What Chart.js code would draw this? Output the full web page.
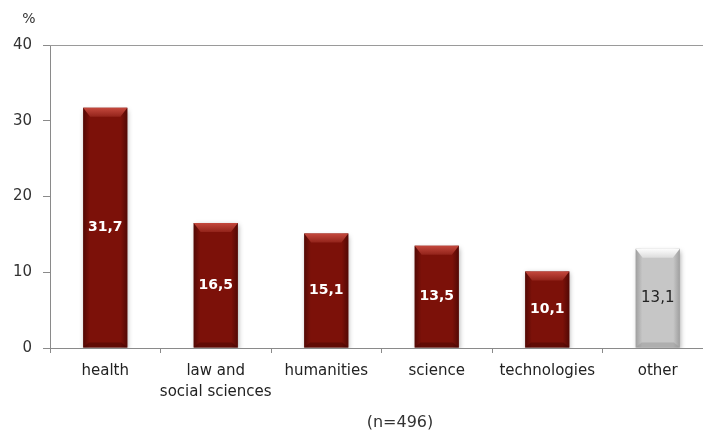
<!DOCTYPE html>
<html>
<head>
<meta charset="utf-8">
<script src="https://cdn.jsdelivr.net/npm/chart.js@4/dist/chart.umd.min.js"></script>
<style>
html,body{margin:0;padding:0;background:#fff;overflow:hidden;width:703px;height:433px;}
#wrap{position:relative;width:716px;height:433px;}
canvas{display:block;}
</style>
</head>
<body>
<div id="wrap"><canvas id="c" width="716" height="433"></canvas></div>
<script>
const categories = ['health', ['law and', 'social sciences'], 'humanities', 'science', 'technologies', 'other'];
const values = [31.7, 16.5, 15.1, 13.5, 10.1, 13.1];
const valueLabels = ['31,7', '16,5', '15,1', '13,5', '10,1', '13,1'];
const yTicks = [0, 10, 20, 30, 40];
const unitLabel = '%';
const noteLabel = '(n=496)';

const FONT = "'DejaVu Sans', 'Open Sans', sans-serif";
const RED = '#7c1109';
const GRAY = '#c6c6c6';
const isOther = i => i === values.length - 1;

const bevelPlugin = {
  id: 'bevel',
  beforeDatasetsDraw(chart) {
    const ctx = chart.ctx;
    ctx.save();
    ctx.shadowColor = 'rgba(0,0,0,0.35)';
    ctx.shadowBlur = 5;
    ctx.shadowOffsetX = 1;
    ctx.shadowOffsetY = 2;
  },
  afterDatasetsDraw(chart) {
    const ctx = chart.ctx;
    ctx.restore();
    const meta = chart.getDatasetMeta(0);
    meta.data.forEach((el, i) => {
      const p = el.getProps(['x', 'y', 'base', 'width'], true);
      const l = p.x - p.width / 2, r = p.x + p.width / 2, t = p.y, b = p.base;
      const other = isOther(i);
      ctx.save();
      // side shading
      let g = ctx.createLinearGradient(l, 0, r, 0);
      const sc = other ? '120,120,120' : '40,0,0';
      g.addColorStop(0, 'rgba(' + sc + ',0.5)');
      g.addColorStop(0.15, 'rgba(' + sc + ',0)');
      g.addColorStop(0.85, 'rgba(' + sc + ',0)');
      g.addColorStop(1, 'rgba(' + sc + ',0.5)');
      ctx.fillStyle = g;
      ctx.fillRect(l, t, r - l, b - t);
      // top bevel
      const bv = 9;
      let tg = ctx.createLinearGradient(0, t, 0, t + bv);
      if (other) {
        tg.addColorStop(0, '#fdfdfd');
        tg.addColorStop(1, '#dcdcdc');
      } else {
        tg.addColorStop(0, '#c4483d');
        tg.addColorStop(1, '#92231a');
      }
      ctx.beginPath();
      ctx.moveTo(l, t);
      ctx.lineTo(r, t);
      ctx.lineTo(r - 7, t + bv);
      ctx.lineTo(l + 7, t + bv);
      ctx.closePath();
      ctx.fillStyle = tg;
      ctx.fill();
      // bottom bevel
      ctx.beginPath();
      ctx.moveTo(l, b);
      ctx.lineTo(r, b);
      ctx.lineTo(r - 6, b - 5);
      ctx.lineTo(l + 6, b - 5);
      ctx.closePath();
      ctx.fillStyle = other ? 'rgba(150,150,150,0.5)' : 'rgba(50,0,0,0.35)';
      ctx.fill();
      // value label
      ctx.font = other ? ('15px ' + FONT) : ('bold 14px ' + FONT);
      ctx.fillStyle = other ? '#222' : '#ffffff';
      ctx.textAlign = 'center';
      ctx.textBaseline = 'middle';
      ctx.fillText(valueLabels[i], p.x, (t + b) / 2);
      ctx.restore();
    });
  },
  afterDraw(chart) {
    const ctx = chart.ctx;
    ctx.save();
    ctx.fillStyle = '#333';
    ctx.textAlign = 'center';
    ctx.textBaseline = 'middle';
    ctx.font = '14px ' + FONT;
    ctx.fillText(unitLabel, 29, 19);
    ctx.font = '16px ' + FONT;
    ctx.fillText(noteLabel, 400, 423);
    ctx.restore();
  }
};

new Chart(document.getElementById('c'), {
  type: 'bar',
  data: {
    labels: categories,
    datasets: [{
      data: values,
      backgroundColor: values.map((v, i) => isOther(i) ? GRAY : RED),
      borderWidth: 0,
      barPercentage: 0.4,
      categoryPercentage: 1.0
    }]
  },
  options: {
    responsive: false,
    animation: false,
    events: [],
    layout: { padding: { left: 0, right: 3, top: 45, bottom: 0 } },
    plugins: { legend: { display: false }, tooltip: { enabled: false }, title: { display: false } },
    scales: {
      y: {
        min: yTicks[0],
        max: yTicks[yTicks.length - 1],
        afterBuildTicks(axis) { axis.ticks = yTicks.map(v => ({ value: v })); },
        afterFit(axis) { axis.width = 50; },
        ticks: { color: '#333', font: { family: FONT, size: 15 }, padding: 11 },
        grid: { drawOnChartArea: false, color: '#8a8a8a', tickLength: 7 },
        border: { color: '#8a8a8a', width: 1 }
      },
      x: {
        afterFit(axis) { axis.height = 85; },
        ticks: { color: '#222', font: { family: FONT, size: 15, lineHeight: 1.4 }, padding: 8, maxRotation: 0, autoSkip: false },
        grid: { drawOnChartArea: false, offset: true, color: '#8a8a8a', tickLength: 5 },
        border: { color: '#8a8a8a', width: 1 }
      },
      x2: {
        type: 'category',
        position: 'top',
        labels: categories,
        afterFit(axis) { axis.height = 0; },
        ticks: { display: false },
        grid: { display: false },
        border: { color: '#9a9a9a', width: 1 }
      }
    }
  },
  plugins: [bevelPlugin]
});
</script>
</body>
</html>
